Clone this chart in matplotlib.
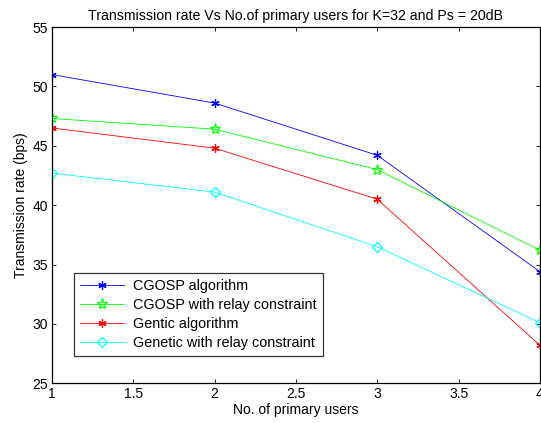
import matplotlib.pyplot as plt

plt.rcParams['font.family'] = ['Liberation Sans', 'DejaVu Sans']

# number of primary users
users = [1, 2, 3, 4]

# transmission rate (bps)
cgosp = [51.0, 48.6, 44.2, 34.4]
cgosp_relay = [47.3, 46.4, 43.0, 36.2]
gentic = [46.5, 44.8, 40.5, 28.2]
genetic_relay = [42.7, 41.1, 36.5, 30.1]

labels = ['CGOSP algorithm', 'CGOSP with relay constraint',
          'Gentic algorithm', 'Genetic with relay constraint']

fig = plt.figure(figsize=(5.41, 4.23), dpi=100)
ax = fig.add_axes([0.096, 0.094, 0.902, 0.842])

ax.plot(users, cgosp, color='#0000ff', lw=0.6, marker=(6, 2, 0), ms=6,
        mec='#0000ff', mew=0.9, label=labels[0])
ax.plot(users, cgosp_relay, color='#00ff00', lw=0.6, marker='*', ms=8,
        mfc='none', mec='#00ff00', mew=0.9, label=labels[1])
ax.plot(users, gentic, color='#ff0000', lw=0.6, marker=(6, 2, 0), ms=6,
        mec='#ff0000', mew=0.9, label=labels[2])
ax.plot(users, genetic_relay, color='#00ffff', lw=0.6, marker='D', ms=5,
        mfc='none', mec='#00ffff', mew=0.9, label=labels[3])

ax.set_xlim(1, 4)
ax.set_ylim(25, 55)
ax.set_xticks([1, 1.5, 2, 2.5, 3, 3.5, 4])
ax.set_xticklabels(['1', '1.5', '2', '2.5', '3', '3.5', '4'])
ax.set_yticks([25, 30, 35, 40, 45, 50, 55])
ax.tick_params(direction='in', top=True, right=True, labelsize=10, length=3,
               width=0.6, pad=3)
for s in ax.spines.values():
    s.set_linewidth(0.9)

ax.set_title('Transmission rate Vs No.of primary users for K=32 and Ps = 20dB',
             fontsize=10.2, pad=5)
ax.set_xlabel('No. of primary users', fontsize=10, labelpad=1)
ax.set_ylabel('Transmission rate (bps)', fontsize=10, labelpad=3)

leg = ax.legend(loc='lower left', bbox_to_anchor=(0.045, 0.076), fontsize=10.4,
                frameon=True, fancybox=False, edgecolor='black', borderaxespad=0,
                handlelength=3.1, handletextpad=0.6, labelspacing=0.35,
                borderpad=0.4)
leg.get_frame().set_linewidth(0.9)

fig.savefig('out.png', dpi=100)
